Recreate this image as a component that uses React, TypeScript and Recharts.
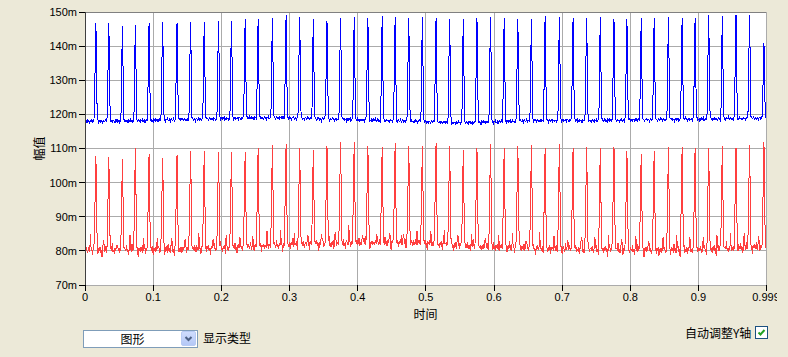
import React from "react";
import {CartesianGrid, Line, LineChart, ReferenceLine, XAxis, YAxis} from "recharts";

// sample index (1 kHz) of each spike peak
const spikeIdx = [16, 35, 55, 74, 94, 114, 135, 155, 175, 196, 215, 235, 254, 275, 295, 315, 335, 355, 375, 395,
    415, 436, 455, 475, 495, 515, 535, 555, 575, 595, 615, 635, 655, 675, 696, 716, 736, 756, 776, 795,
    816, 835, 856, 876, 895, 915, 935, 955, 975, 996];

const bluePeak = [146.8, 146.8, 145.8, 146.3, 146.8, 147.1, 146.8, 147.1, 147.1, 147.3, 147.5, 147.8, 148, 148.2, 149.2,
    148.5, 147.8, 147.5, 148.2, 148.5, 148.2, 148.7, 148.5, 148.2, 148.5, 148.2, 148, 147.8, 148.2, 148.5, 148.2, 147.8,
    148, 148.7, 148.5, 148.2, 148.2, 148.5, 147.8, 148, 148.2, 148.2, 148.5, 148.2, 148.2, 149, 148.7, 149.2, 149.2, 141];

const redPeak = [107.8, 107.6, 106.8, 110, 108.3, 107.1, 108, 109.3, 109.3, 109, 109, 109, 110, 111, 111.2, 110, 109.5,
    110.8, 111.8, 112, 110.8, 110.5, 111.6, 110.8, 110.7, 111.5, 110.8, 109.5, 110.2, 111.2, 110, 110.8, 111, 110, 111.2,
    110, 110.5, 110, 110.5, 109.3, 108.5, 109.3, 110.5, 110.5, 110.2, 110.2, 110.8, 110.2, 111, 112];

// baseline level before each spike (last entry = tail)
const blueBase = [118.0, 118.0, 118.1, 118.1, 118.2, 118.3, 118.4, 118.5, 118.6, 118.7, 118.8, 118.9, 119.0, 119.0,
    119.0, 118.9, 118.8, 118.7, 118.6, 118.5, 118.4, 118.3, 118.2, 118.1, 118.0, 117.8, 117.7, 117.6, 117.6, 117.7,
    117.8, 118.0, 118.1, 118.2, 118.2, 118.3, 118.2, 118.2, 118.3, 118.3, 118.4, 118.4, 118.5, 118.5, 118.6, 118.6,
    118.7, 118.8, 118.8, 118.9, 118.9];

const redBase = [80.2, 80.1, 80.2, 80.3, 80.3, 80.4, 80.4, 80.5, 80.6, 80.7, 80.8, 81.0, 81.2, 81.4, 81.6, 81.8, 81.9,
    82.0, 82.1, 82.2, 82.3, 82.3, 82.4, 82.4, 82.3, 82.2, 82.0, 81.6, 81.3, 81.1, 81.0, 80.9, 80.8, 80.7, 80.6, 80.5,
    80.4, 80.4, 80.3, 80.3, 80.3, 80.2, 80.2, 80.3, 80.3, 80.4, 80.5, 80.7, 80.9, 81.1, 81.2];

// spike shape, fraction of (peak - base): blue samples -2..+2, red samples -8..+2
const blueShape = [0.1, 0.65, 1, 0.45, 0.02];
const redShape = [0.12, 0.03, 0, 0, 0, 0, 0.2, 0.65, 1, 0.45, 0.03];

// baseline wobble
const blueNoise = [0, -0.2, 0.1, -0.4, 0.3, 0.1, -0.1, -0.5, 0.2, 0, 0.4, -0.3, -0.1, 0.2, -0.6, 0.1, 0.3, -0.2, 0,
    0.5, -0.4, -0.1, 0.2, -0.3, 0.1, 0, -0.7, 0.3, 0.1, -0.2, 0.4, -0.1, 0.2, -0.4, 0, 0.3, -0.2];
const redNoise = [0.3, -0.5, 1.0, -0.2, -0.9, 0.6, 0.2, -0.4, 1.3, -0.7, 0.2, -1.5, 0.5, 0.8, -0.2, -0.6, 1.7, -0.3,
    0.4, -1.0, 0.7, -0.1, 1.1, -0.6, 0.2, -2.0, 0.6, -0.2, 0.9, -0.5, 0.2, 1.4, -0.8, 0.0, -0.4, 0.7, -1.2, 0.3, 0.5,
    -0.2, 2.1, -0.6, 0.1, -1.0, 0.6, -0.3, 1.0, -1.6, 0.4, -0.1, 0.6, -0.7, 0.2];

const xTicks = [0, 0.1, 0.2, 0.3, 0.4, 0.5, 0.6, 0.7, 0.8, 0.9, 0.999];
const yTicks = [70, 80, 90, 100, 110, 120, 130, 140, 150];

const sampleCount = 1000;

const buildData = () => {
    const rows: { t: number, blue: number, red: number }[] = [];
    let seg = 0;
    for (let k = 0; k < sampleCount; k++) {
        while (seg < spikeIdx.length && k > spikeIdx[seg] + 2) seg++;
        const bb = blueBase[seg];
        const rb = redBase[seg];
        const bn = blueNoise[k % blueNoise.length];
        const rn = redNoise[k % redNoise.length];
        let b = bb + bn;
        let r = rb + rn;
        if (seg < spikeIdx.length) {
            const d = k - spikeIdx[seg];
            if (d >= -2 && d <= 2) b = bb + blueShape[d + 2] * (bluePeak[seg] - bb);
            if (d >= -8 && d <= 2) r = rb + redShape[d + 8] * (redPeak[seg] - rb) + (d <= -3 ? rn : 0);
        }
        rows.push({t: k / 1000, blue: b, red: r});
    }
    return rows;
};

const data = buildData();

const tickFont = {fill: "#000", fontSize: 11, fontFamily: "Liberation Sans, Arial, sans-serif"};
const cjkFont = "Noto Sans CJK SC, sans-serif";

const renderXTick = (props: any) => {
    const {x, y, payload} = props;
    const label = payload.value === 0 ? "0" : String(payload.value);
    return (
        <svg x={0} y={0} width={777} height={357} overflow="hidden">
            <text x={x} y={y} dy="0.75em" textAnchor="middle" {...tickFont}>{label}</text>
        </svg>
    );
};

export default function App() {
    return (
        <div style={{
            position: "fixed", left: 0, top: 0, width: 788, height: 357, background: "#ECE9D8",
            overflow: "hidden", shapeRendering: "crispEdges"
        }}>
            <LineChart width={788} height={325} data={data} margin={{top: 12, right: 22, bottom: 0, left: 0}}>
                <CartesianGrid stroke="#ABABAB" fill="#FFFFFF"/>
                <XAxis type="number" dataKey="t" domain={[0, 0.999]} ticks={xTicks} interval={0}
                       tick={renderXTick} tickLine={{stroke: "#000"}} axisLine={false} height={40}
                       label={{value: "时间", position: "insideBottom", offset: 6, fill: "#000", fontSize: 12, fontFamily: cjkFont}}/>
                <YAxis type="number" domain={[70, 150]} ticks={yTicks} interval={0} width={85}
                       tickFormatter={(v: number) => `${v}m`} tick={tickFont}
                       axisLine={{stroke: "#404040"}} tickLine={{stroke: "#000"}} allowDataOverflow
                       label={{value: "幅值", angle: -90, position: "insideLeft", offset: 40, textAnchor: "middle", fill: "#000", fontSize: 12, fontFamily: cjkFont}}/>
                <ReferenceLine y={150} stroke="#808080"/>
                <Line type="linear" dataKey="blue" stroke="#0000FF" strokeWidth={1} dot={false} isAnimationActive={false}/>
                <Line type="linear" dataKey="red" stroke="#FF3F3F" strokeWidth={1} dot={false} isAnimationActive={false}/>
            </LineChart>

            {/* display type drop-down */}
            <div style={{
                position: "absolute", left: 83, top: 330, width: 113, height: 16, border: "1px solid #7F9DB9",
                background: "#fff", fontFamily: cjkFont, fontSize: 12
            }}>
                <div style={{position: "absolute", left: 0, top: 0, width: 97, height: 16, lineHeight: "16px", textAlign: "center"}}>图形</div>
                <div style={{
                    position: "absolute", left: 97, top: 0, width: 15, height: 15, borderRadius: 2,
                    background: "linear-gradient(#CFDCFD, #B4C8F6)", border: "1px solid #B8CBF4", boxSizing: "border-box"
                }}>
                    <svg width={13} height={13} style={{shapeRendering: "auto", display: "block"}}>
                        <polyline points="3.5,5 6.5,8 9.5,5" fill="none" stroke="#4D6185" strokeWidth={2}/>
                    </svg>
                </div>
            </div>
            <div style={{position: "absolute", left: 203, top: 331, fontFamily: cjkFont, fontSize: 12, lineHeight: "14px", color: "#000"}}>显示类型</div>

            {/* auto scale Y checkbox */}
            <div style={{position: "absolute", left: 685, top: 326, fontFamily: cjkFont, fontSize: 12, lineHeight: "14px", color: "#000"}}>自动调整Y轴</div>
            <div style={{
                position: "absolute", left: 755, top: 326, width: 11, height: 11, border: "1px solid #1C5180", background: "#fff"
            }}>
                <svg width={11} height={11} style={{shapeRendering: "auto", display: "block"}}>
                    <polyline points="2.5,5.5 4.5,7.5 8.5,3" fill="none" stroke="#21A121" strokeWidth={2}/>
                </svg>
            </div>
        </div>
    );
}
